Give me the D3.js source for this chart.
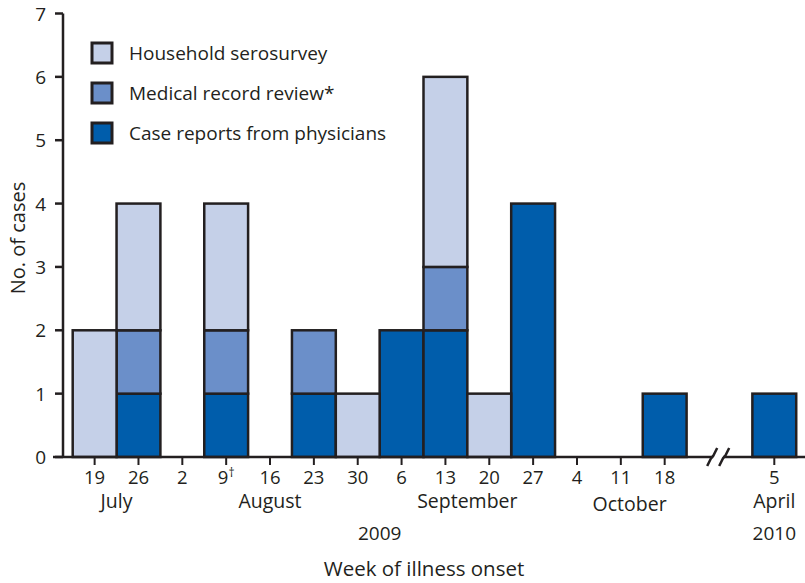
<!DOCTYPE html>
<html>
<head>
<meta charset="utf-8">
<script src="https://cdn.jsdelivr.net/npm/d3@7"></script>
<style>
  body { margin: 0; background: #fff; }
  svg { display: block; font-family: "Open Sans", sans-serif; }
</style>
</head>
<body>
<div id="chart"></div>
<script>
// week of illness onset (day of month)
const weeks = ["19", "26", "2", "9", "16", "23", "30", "6", "13", "20", "27", "4", "11", "18", "5"];
const caseReports = [0, 1, 0, 1, 0, 1, 0, 2, 2, 0, 4, 0, 0, 1, 1];
const medicalReview = [0, 1, 0, 1, 0, 1, 0, 0, 1, 0, 0, 0, 0, 0, 0];
const household = [2, 2, 0, 2, 0, 0, 1, 0, 3, 1, 0, 0, 0, 0, 0];
const seriesNames = ["Case reports from physicians", "Medical record review*", "Household serosurvey"];
const months = [
    { name: "July", at: 0.5 },
    { name: "August", at: 4 },
    { name: "September", at: 8.5 },
    { name: "October", at: 12.2 },
    { name: "April", at: 14 }
];
const years = [{ name: "2009", at: 6.5 }, { name: "2010", at: 14 }];
const yTicks = [0, 1, 2, 3, 4, 5, 6, 7];

const colors = ["#005dab", "#6b8fc9", "#c5d0e8"];
const ink = "#231f20";

const width = 805, height = 583;
const breakAfter = 14;   // weeks after this index sit past the axis break
const breakGap = 1.5;    // width of the break, in weeks

const svg = d3.select("#chart").append("svg")
    .attr("width", width)
    .attr("height", height);

const slot = i => i < breakAfter ? i : i + breakGap;
const x = d3.scaleLinear().domain([0, 1]).range([72.7, 116.55]);
const y = d3.scaleLinear().domain([0, 7]).range([457, 13.5]);

// stacked data
const rows = weeks.map((w, i) => ({ week: w, i, v: [caseReports[i], medicalReview[i], household[i]] }));
const stack = d3.stack().keys([0, 1, 2]).value((d, k) => d.v[k]);
const layers = stack(rows);

const bars = svg.append("g");
layers.forEach((layer, k) => {
    bars.selectAll(null)
        .data(layer.filter(d => d[1] > d[0]))
        .enter()
        .append("rect")
            .attr("x", d => x(slot(d.data.i)))
            .attr("width", d => x(slot(d.data.i) + 1) - x(slot(d.data.i)))
            .attr("y", d => y(d[1]))
            .attr("height", d => y(d[0]) - y(d[1]))
            .style("fill", colors[k])
            .style("stroke", ink)
            .style("stroke-width", 2.5);
});

// y axis
const yAxis = svg.append("g");
yAxis.append("line")
    .attr("x1", 63).attr("x2", 63)
    .attr("y1", y(7)).attr("y2", y(0))
    .style("stroke", ink).style("stroke-width", 2.5);
yAxis.selectAll(".ytick")
    .data(yTicks)
    .enter()
    .append("line")
        .attr("x1", 55).attr("x2", 63)
        .attr("y1", d => y(d)).attr("y2", d => y(d))
        .style("stroke", ink).style("stroke-width", 2.5);
yAxis.selectAll(".ylab")
    .data(yTicks)
    .enter()
    .append("text")
        .attr("x", 46)
        .attr("y", d => y(d) + 7)
        .attr("text-anchor", "end")
        .style("font-size", "19px")
        .style("fill", ink)
        .text(d => d);

svg.append("text")
    .attr("transform", "translate(25," + 238 + ") rotate(-90)")
    .attr("text-anchor", "middle")
    .style("font-size", "20px")
    .style("fill", ink)
    .text("No. of cases");

// x axis
const xAxis = svg.append("g");
xAxis.append("line")
    .attr("x1", 53).attr("x2", width)
    .attr("y1", y(0)).attr("y2", y(0))
    .style("stroke", ink).style("stroke-width", 2.5);
xAxis.selectAll(".xtick")
    .data(weeks)
    .enter()
    .append("line")
        .attr("x1", (d, i) => x(slot(i) + 0.5))
        .attr("x2", (d, i) => x(slot(i) + 0.5))
        .attr("y1", y(0)).attr("y2", y(0) + 8)
        .style("stroke", ink).style("stroke-width", 2);
const dayLabels = xAxis.selectAll(".xlab")
    .data(weeks)
    .enter()
    .append("text")
        .attr("x", (d, i) => x(slot(i) + 0.5))
        .attr("y", 484)
        .attr("text-anchor", "middle")
        .style("font-size", "18.5px")
        .style("fill", ink)
        .text(d => d);
// dagger on week of 9 August
dayLabels.filter(d => d === "9")
    .append("tspan")
        .attr("dy", -7)
        .style("font-size", "12px")
        .text("\u2020");

xAxis.selectAll(".month")
    .data(months)
    .enter()
    .append("text")
        .attr("x", d => x(slot(d.at) + 0.5))
        .attr("y", d => d.name === "October" ? 511 : 508)
        .attr("text-anchor", "middle")
        .style("font-size", "19.5px")
        .style("fill", ink)
        .text(d => d.name);

xAxis.selectAll(".year")
    .data(years)
    .enter()
    .append("text")
        .attr("x", d => x(slot(d.at) + 0.5))
        .attr("y", 540)
        .attr("text-anchor", "middle")
        .style("font-size", "19px")
        .style("fill", ink)
        .text(d => d.name);

svg.append("text")
    .attr("x", 424)
    .attr("y", 576)
    .attr("text-anchor", "middle")
    .style("font-size", "20.5px")
    .style("fill", ink)
    .text("Week of illness onset");

// axis break
const bx = x(breakAfter + breakGap / 2 - 0.03);
xAxis.append("rect")
    .attr("x", bx - 5).attr("y", y(0) - 3)
    .attr("width", 10).attr("height", 6)
    .style("fill", "#fff");
[-6, 6].forEach(off => {
    const cx = bx + off;
    xAxis.append("path")
        .attr("d", `M${cx - 5},${y(0) + 9} L${cx - 1},${y(0) + 1} L${cx + 1},${y(0) - 1} L${cx + 5},${y(0) - 9}`)
        .style("fill", "none")
        .style("stroke", ink)
        .style("stroke-width", 2.5);
});

// legend
const legend = svg.append("g").attr("transform", "translate(92,43)");
const items = legend.selectAll("g")
    .data([2, 1, 0])
    .enter()
    .append("g")
        .attr("transform", (d, i) => "translate(0," + i * 40 + ")");
items.append("rect")
    .attr("width", 20).attr("height", 20)
    .style("fill", d => colors[d])
    .style("stroke", ink)
    .style("stroke-width", 3);
items.append("text")
    .attr("x", 37)
    .attr("y", 17)
    .style("font-size", "19px")
    .style("fill", ink)
    .text(d => seriesNames[d]);
</script>
</body>
</html>
